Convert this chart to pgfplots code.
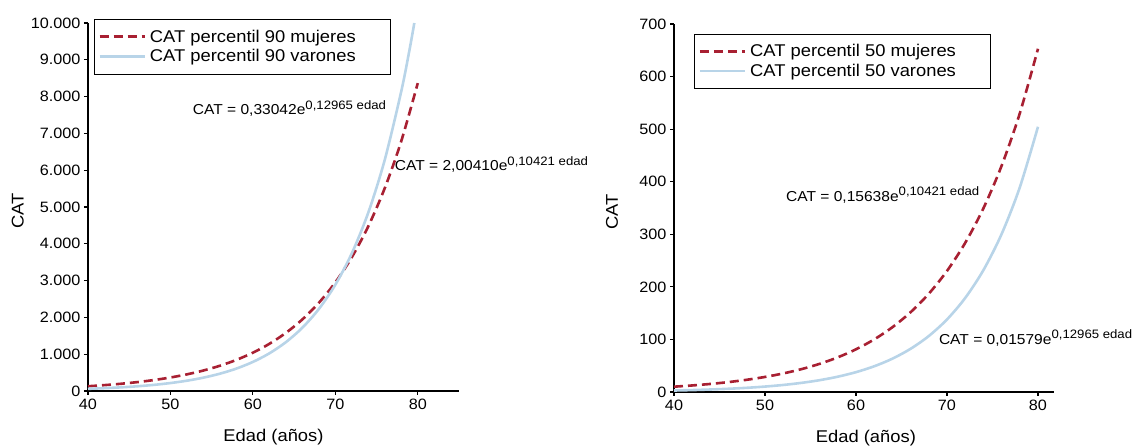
\documentclass[border=0pt]{standalone}
\usepackage{fontspec}
\setmainfont{Liberation Sans}[FakeStretch=1.08]
\usepackage{pgfplots}
\pgfplotsset{compat=1.18}

\definecolor{catred}{RGB}{168,32,50}
\definecolor{catblue}{RGB}{184,212,232}

\pgfplotsset{
  catpanel/.style={
    scale only axis, axis lines=left, axis line style={-, line width=1.1pt, black},
    tick align=outside, major tick length=4pt, tick style={black, line width=1.1pt},
    every tick label/.append style={font=\fontsize{15}{17}\selectfont},
    /pgf/number format/assume math mode=true,
    /pgf/number format/1000 sep={.},
    scaled y ticks=false,
    label style={font=\fontsize{17}{20}\selectfont},
    xlabel={Edad (años)}, ylabel={CAT},
    xmin=40, xtick={40,50,...,80}, ymin=0,
    legend cell align=left,
    legend style={draw=black, line width=0.8pt, anchor=north west,
      font=\fontsize{17}{20}\selectfont, inner xsep=4pt, inner ysep=9.5pt,
      row sep=4pt, nodes={inner sep=1pt}},
    legend image code/.code={\draw[##1] (0pt,0pt) -- (45pt,0pt); \path (48pt,0pt);},
    clip=false,
  },
  mujeres/.style={catred, line width=2.6pt, dash pattern=on 9pt off 5pt, smooth},
  varones/.style={catblue, line width=2.6pt, smooth},
}
\newcommand{\formula}[2]{\fontsize{14.4}{16}\selectfont CAT = #1e\raisebox{5.5pt}{\fontsize{12.2}{13}\selectfont #2 edad}}

\begin{document}
\begin{tikzpicture}
\useasboundingbox (-88pt,-55pt) rectangle (1049pt,391pt);

% percentil 90
\begin{axis}[catpanel, at={(0pt,0pt)}, anchor=south west,
  width=371pt, height=368pt, xmax=85, ymax=10000,
  ytick={0,1000,...,10000},
  xlabel style={at={(axis description cs:0.5,-0.125)}, anchor=center},
  ylabel style={at={(axis description cs:-0.189,0.49)}, anchor=center},
  legend style={at={(0.016,1.011)}}]
\addplot[mujeres] coordinates {
  (40,129.49) (42,159.49) (44,196.45) (46,241.98) (48,298.05) (50,367.11)
  (52,452.21) (54,557.00) (56,686.06) (58,845.05) (60,1040.87) (62,1282.04)
  (64,1579.13) (66,1945.08) (68,2395.80) (70,2950.96) (72,3634.78) (74,4477.06)
  (76,5514.50) (78,6792.38) (80,8366.3)};
\addlegendentry{CAT percentil 90 mujeres\hspace*{30pt}\mbox{}}
\addplot[varones] coordinates {
  (40,59.06) (42,76.55) (44,99.21) (46,128.58) (48,166.64) (50,215.97)
  (52,279.89) (54,362.75) (56,470.13) (58,609.30) (60,789.7) (62,1023.5)
  (64,1326.5) (66,1719.1) (68,2228.0) (70,2887.3) (72,3742.1) (74,4849.9)
  (76,6285.6) (78,8146.2) (79,9273.9) (79.58,10000)};
\addlegendentry{CAT percentil 90 varones}
\node[anchor=base west, inner sep=0pt] at (axis cs:52.7,7500) {\formula{0,33042}{0,12965}};
\node[anchor=base west, inner sep=0pt] at (axis cs:77.2,5980) {\formula{2,00410}{0,10421}};
\end{axis}

% percentil 50
\begin{axis}[catpanel, at={(586pt,-1pt)}, anchor=south west,
  width=380pt, height=368pt, xmax=81.76, ymax=700,
  ytick={0,100,...,700},
  xlabel style={at={(axis description cs:0.505,-0.125)}, anchor=center},
  ylabel style={at={(axis description cs:-0.163,0.49)}, anchor=center},
  legend style={at={(0.053,0.974)}}]
\addplot[mujeres] coordinates {
  (40,10.104) (42,12.445) (44,15.329) (46,18.881) (48,23.257) (50,28.646)
  (52,35.286) (54,43.463) (56,53.534) (58,65.939) (60,81.219) (62,100.04)
  (64,123.22) (66,151.77) (68,186.94) (70,230.26) (72,283.62) (74,349.35)
  (76,430.30) (78,530.01) (80,652.83)};
\addlegendentry{CAT percentil 50 mujeres\hspace*{29pt}\mbox{}}
\addplot[varones] coordinates {
  (40,2.822) (42,3.658) (44,4.741) (46,6.144) (48,7.963) (50,10.321)
  (52,13.376) (54,17.335) (56,22.466) (58,29.117) (60,37.74) (62,48.91)
  (64,63.39) (66,82.15) (68,106.47) (70,137.98) (72,178.83) (74,231.77)
  (76,300.37) (78,389.29) (80,504.5)};
\addlegendentry{CAT percentil 50 varones}
\node[anchor=base west, inner sep=0pt] at (axis cs:52.3,363) {\formula{0,15638}{0,10421}};
\node[anchor=base west, inner sep=0pt] at (axis cs:69.1,91) {\formula{0,01579}{0,12965}};
\end{axis}
\end{tikzpicture}
\end{document}
